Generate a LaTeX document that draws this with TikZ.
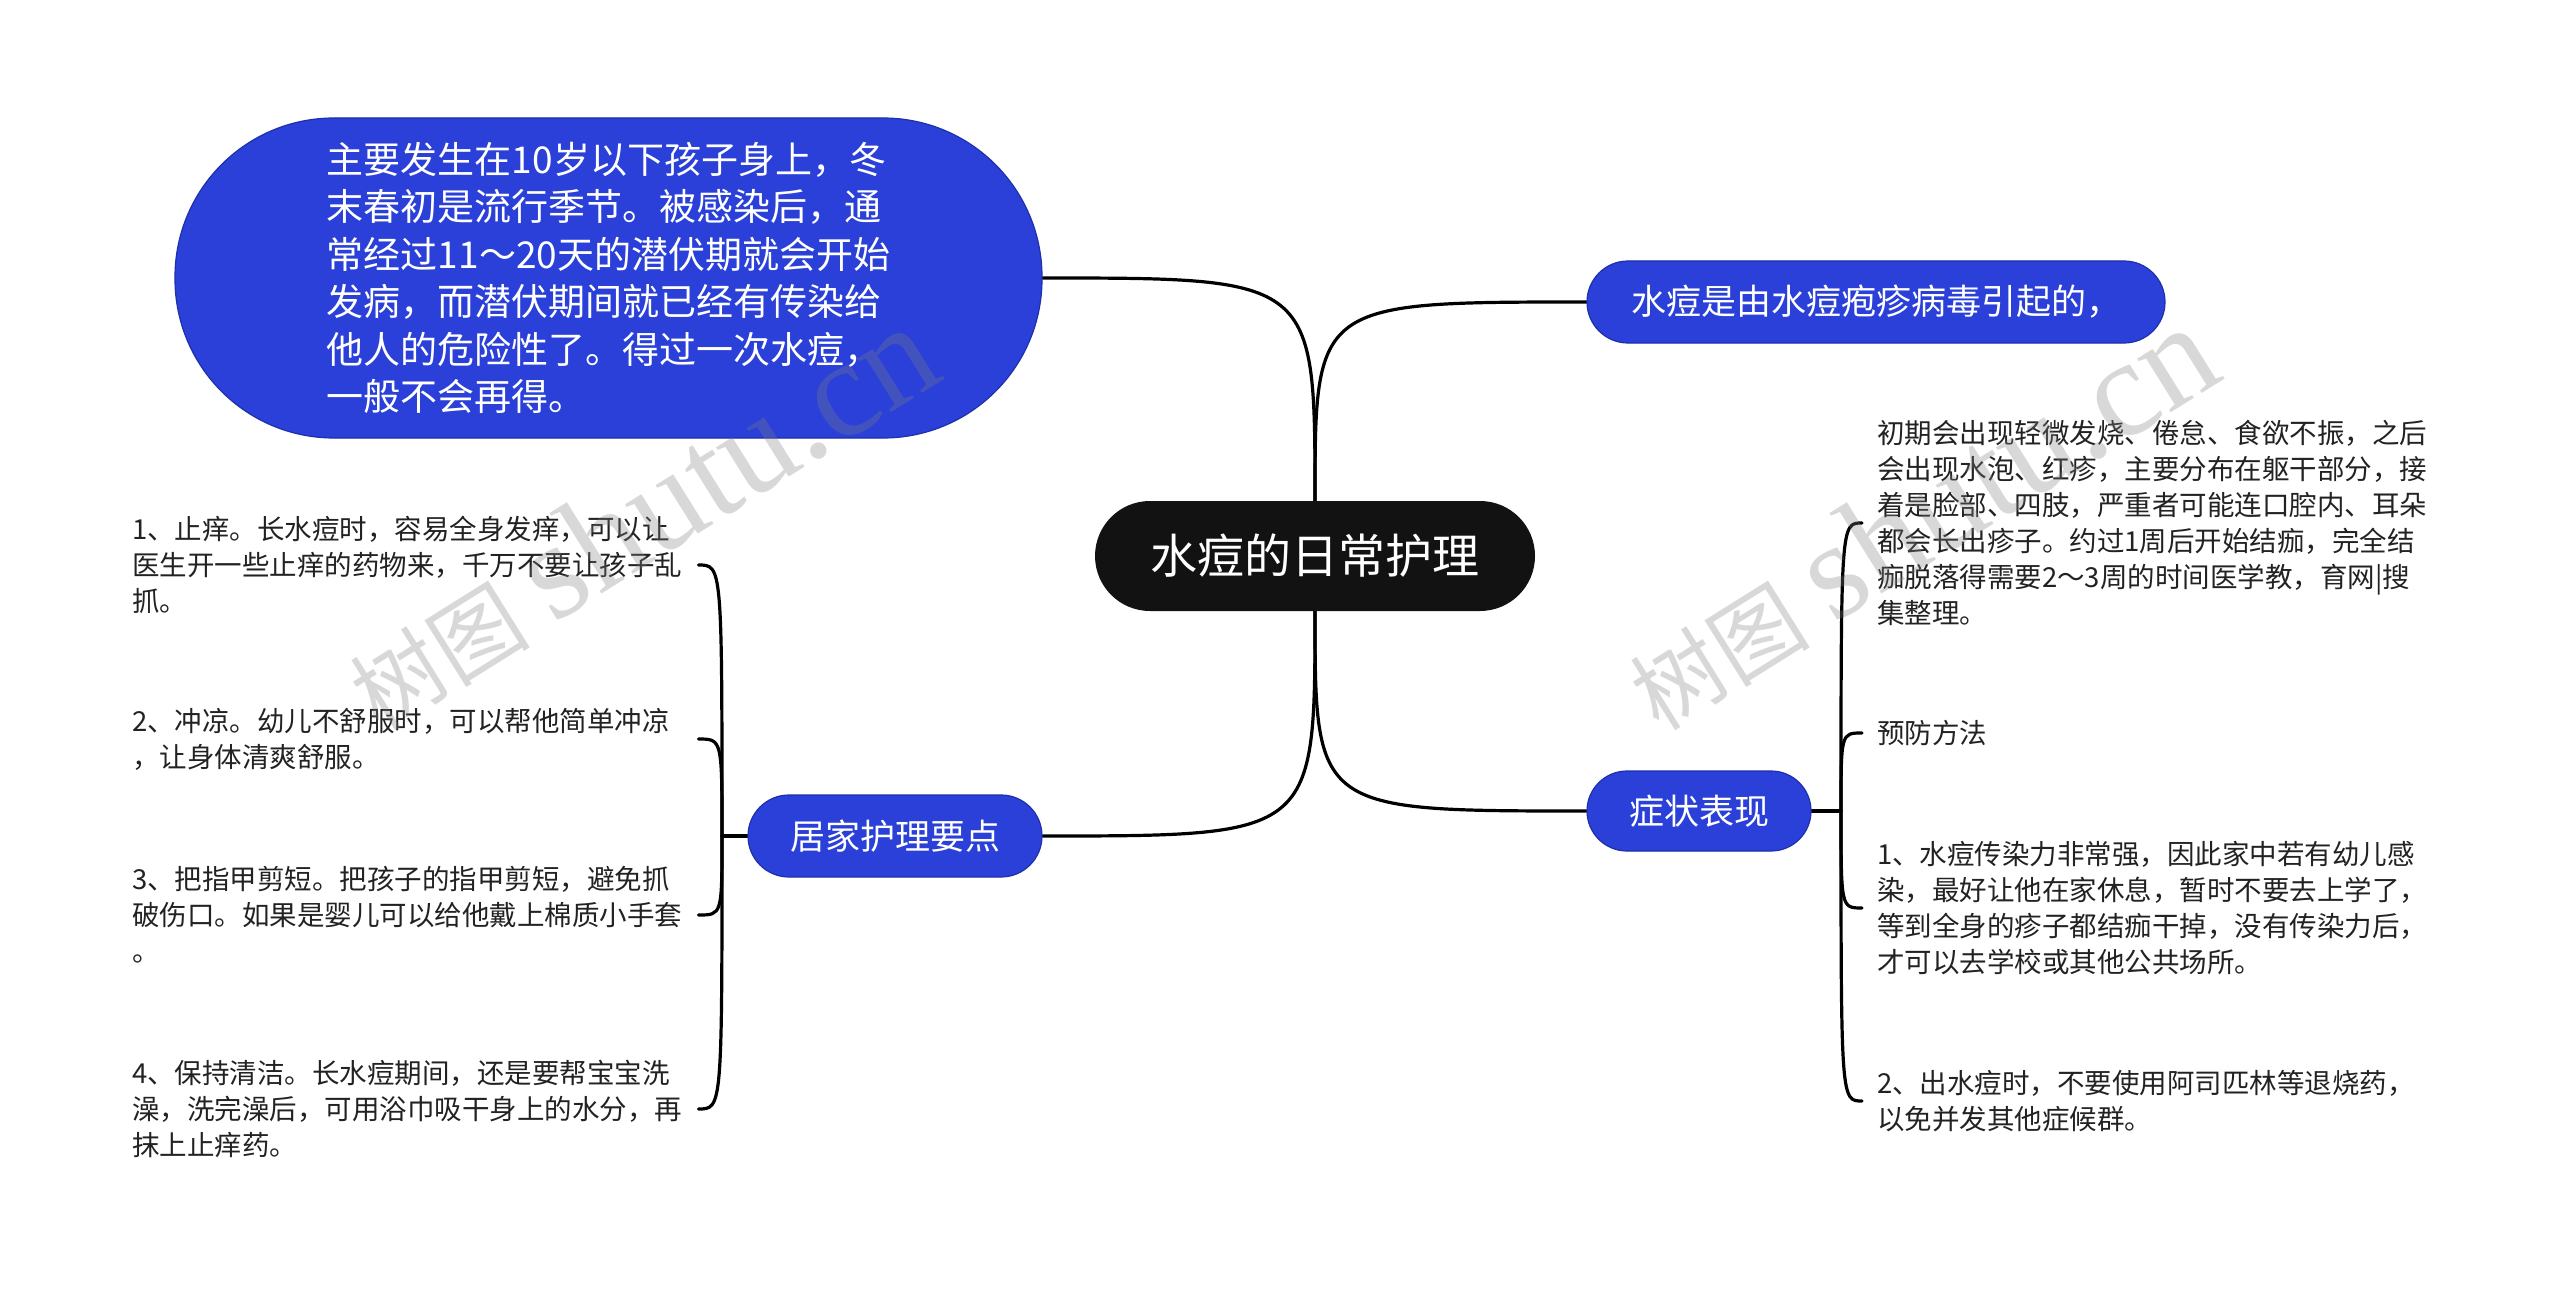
\documentclass[tikz,border=0pt]{standalone}
\usepackage{fontspec}
\setmainfont{Noto Sans CJK SC}
\newfontfamily\wmlatin{Liberation Serif}
\usetikzlibrary{backgrounds}
\definecolor{nodeblue}{RGB}{42,64,216}
\definecolor{nodeedge}{RGB}{30,48,170}
\definecolor{leaftext}{RGB}{34,34,34}
\begin{document}
\begin{tikzpicture}[x=1pt,y=-1pt,
  conn/.style={line width=3.2pt, draw=black, line cap=round},
  bluebox/.style={fill=nodeblue, draw=nodeedge, line width=1.2pt, text=white, inner sep=0pt, font=\fontsize{35}{42}\selectfont, minimum height=82pt},
  leaf/.style={anchor=west, align=left, text width=554pt, inner xsep=12pt, inner ysep=4pt, font=\fontsize{27.5}{36}\selectfont, text=leaftext},
  rleaf/.style={leaf, inner xsep=15pt},
  wmark/.style={rotate=32, text=black!50, text opacity=0.3, inner sep=0pt},
]
\useasboundingbox (0,0) rectangle (2560,1292);

% central topic
\node[fill=black!93, text=white, rounded corners=55pt, minimum width=440pt, minimum height=110pt, inner sep=0pt, font=\fontsize{47}{56}\selectfont] (root) at (1315,556) {水痘的日常护理};

% main topics
\node[bluebox, rounded corners=159pt, minimum width=867pt, minimum height=320pt, align=left, font=\fontsize{37}{47.4}\selectfont] (intro) at (608.5,278) {主要发生在10岁以下孩子身上，冬\\末春初是流行季节。被感染后，通\\常经过11～20天的潜伏期就会开始\\发病，而潜伏期间就已经有传染给\\他人的危险性了。得过一次水痘，\\一般不会再得。};
\node[bluebox, rounded corners=41pt, minimum width=578pt] (cause) at (1876,302) {水痘是由水痘疱疹病毒引起的，};
\node[bluebox, rounded corners=41pt, minimum width=294pt] (home) at (895,836) {居家护理要点};
\node[bluebox, rounded corners=40pt, minimum width=224pt, minimum height=80pt] (symp) at (1699,811) {症状表现};

% left leaves
\node[leaf] (h1) at (120,565) {1、止痒。长水痘时，容易全身发痒，可以让\\医生开一些止痒的药物来，千万不要让孩子乱\\抓。};
\node[leaf] (h2) at (120,739) {2、冲凉。幼儿不舒服时，可以帮他简单冲凉\\，让身体清爽舒服。};
\node[leaf] (h3) at (120,915) {3、把指甲剪短。把孩子的指甲剪短，避免抓\\破伤口。如果是婴儿可以给他戴上棉质小手套\\。};
\node[leaf] (h4) at (120,1109) {4、保持清洁。长水痘期间，还是要帮宝宝洗\\澡，洗完澡后，可用浴巾吸干身上的水分，再\\抹上止痒药。};

% right leaves
\node[rleaf] (s1) at (1862,523) {初期会出现轻微发烧、倦怠、食欲不振，之后\\会出现水泡、红疹，主要分布在躯干部分，接\\着是脸部、四肢，严重者可能连口腔内、耳朵\\都会长出疹子。约过1周后开始结痂，完全结\\痂脱落得需要2～3周的时间医学教，育网|搜\\集整理。};
\node[rleaf] (s2) at (1862,733) {预防方法};
\node[rleaf] (s3) at (1862,908) {1、水痘传染力非常强，因此家中若有幼儿感\\染，最好让他在家休息，暂时不要去上学了，\\等到全身的疹子都结痂干掉，没有传染力后，\\才可以去学校或其他公共场所。};
\node[rleaf] (s4) at (1862,1101) {2、出水痘时，不要使用阿司匹林等退烧药，\\以免并发其他症候群。};

\coordinate (jl) at (722,836);
\coordinate (jr) at (1841,811);

\begin{scope}[on background layer]
\fill[white] (0,0) rectangle (2560,1292);
\draw[conn] (root.north) .. controls (root.north |- intro.east) .. (intro.east);
\draw[conn] (root.north) .. controls (root.north |- cause.west) .. (cause.west);
\draw[conn] (root.south) .. controls (root.south |- home.east) .. (home.east);
\draw[conn] (root.south) .. controls (root.south |- symp.west) .. (symp.west);
\draw[conn] (home.west) -- (jl);
\foreach \n in {h1,h2,h3,h4}
  \draw[conn] (jl) .. controls (jl |- \n.east) .. (\n.east);
\draw[conn] (symp.east) -- (jr);
\foreach \n in {s1,s2,s3,s4}
  \draw[conn] (jr) .. controls (jr |- \n.west) .. (\n.west);
\end{scope}

% watermarks
\node[wmark] (wm1) at (640,518) {{\fontsize{90}{95}\selectfont 树图}\hspace{25pt}{\wmlatin\fontsize{138}{140}\selectfont shutu.cn}};
\node[wmark] (wm2) at (1920,518) {{\fontsize{90}{95}\selectfont 树图}\hspace{25pt}{\wmlatin\fontsize{138}{140}\selectfont shutu.cn}};
\end{tikzpicture}
\end{document}
